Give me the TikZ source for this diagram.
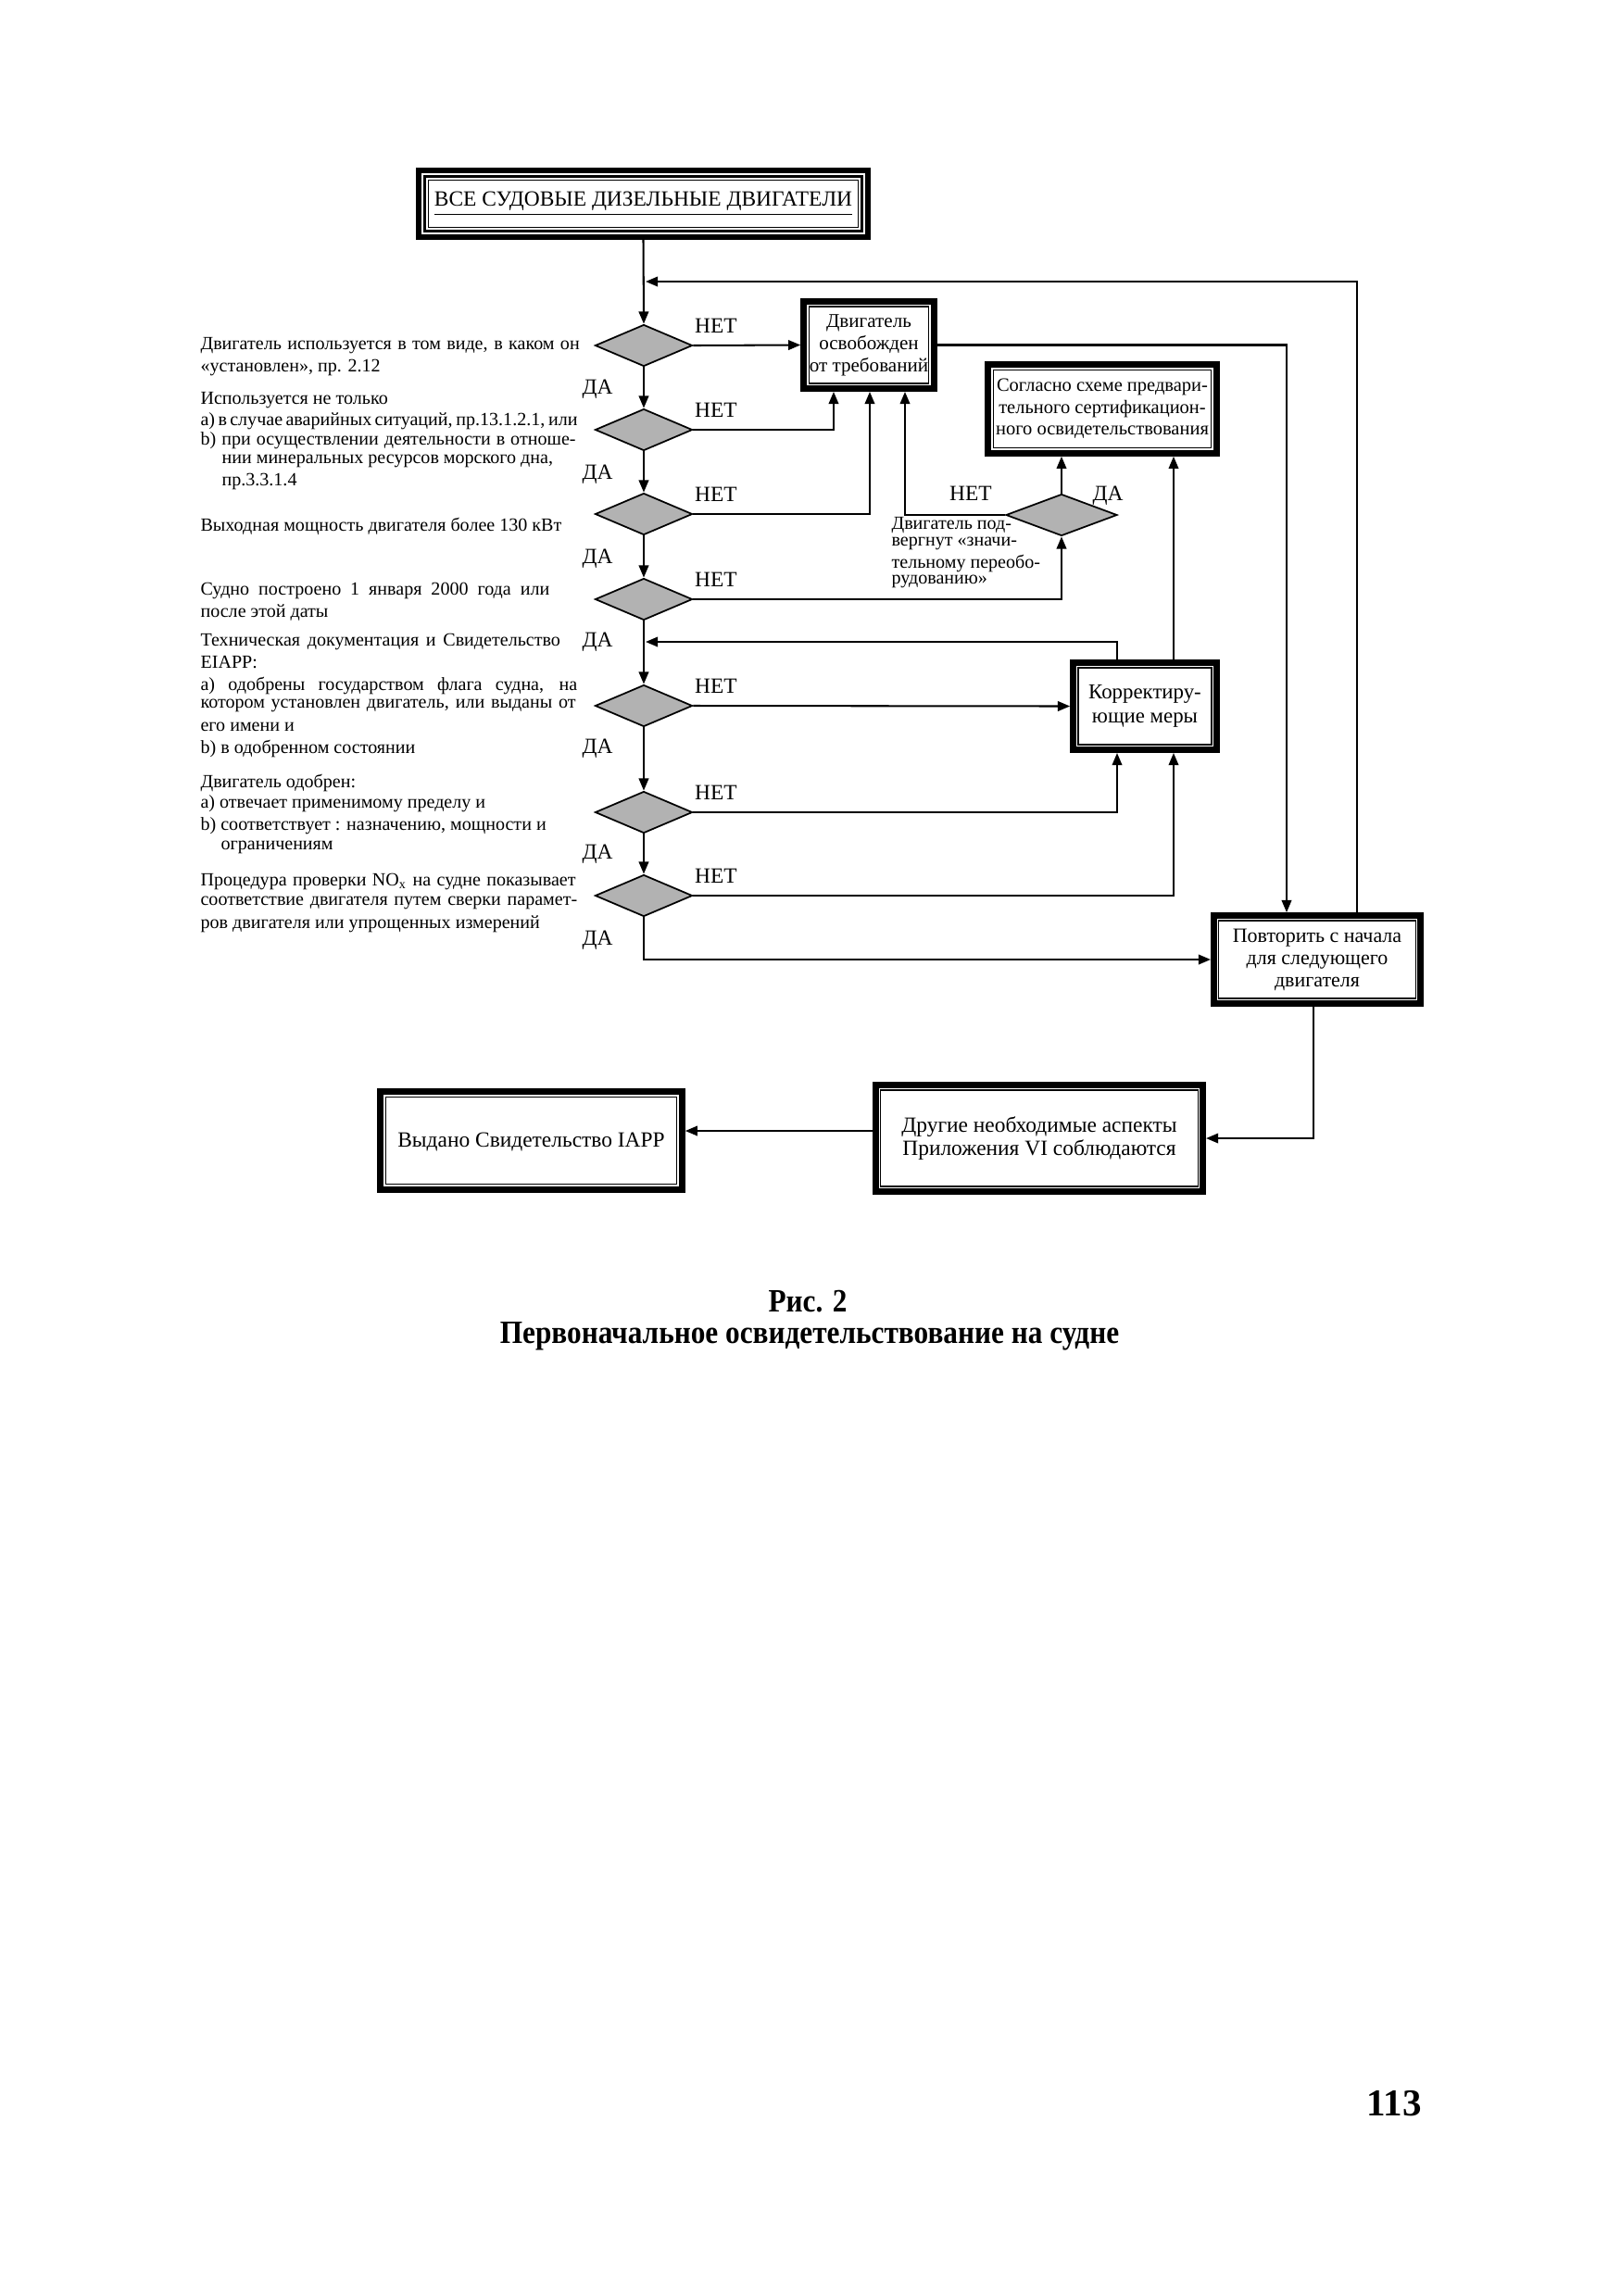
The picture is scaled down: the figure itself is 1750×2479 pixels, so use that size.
\documentclass[tikz,border=0pt]{standalone}
\usepackage{fontspec}
\usepackage{graphicx}
\setmainfont{Liberation Serif}
\usetikzlibrary{shapes.geometric,arrows.meta}
\begin{document}
\begin{tikzpicture}[x=0.12mm,y=-0.12mm]
\tikzset{
 conn/.style={line width=0.7pt},
 arr/.style={conn,-{Triangle[length=4.5pt,width=3.6pt]}},
 dia/.style={diamond,draw,line width=0.6pt,fill=black!30,minimum width=12.6mm,minimum height=5.4mm,inner sep=0pt,shape aspect=2.3},
 fb/.style={draw,line width=2.3pt,inner sep=0pt,align=center,font=\fontsize{7.5}{8.2}\selectfont,
   path picture={\draw[line width=0.4pt] ([shift={(1.9pt,1.9pt)}]path picture bounding box.south west) rectangle ([shift={(-1.9pt,-1.9pt)}]path picture bounding box.north east);}},
 topbox/.style={draw,line width=2pt,inner sep=0pt,align=center,font=\fontsize{8}{9}\selectfont,
   path picture={\draw[line width=1pt] ([shift={(2.3pt,2.3pt)}]path picture bounding box.south west) rectangle ([shift={(-2.3pt,-2.3pt)}]path picture bounding box.north east);
   \draw[line width=0.4pt] ([shift={(3.6pt,3.6pt)}]path picture bounding box.south west) rectangle ([shift={(-3.6pt,-3.6pt)}]path picture bounding box.north east);}},
 lbl/.style={font=\fontsize{8}{9}\selectfont,inner sep=0pt},
 lt/.style={font=\fontsize{6.85}{8}\selectfont,inner sep=0pt,anchor=west},
}
\useasboundingbox (0,0) rectangle (1750,2479);

% boxes
\node[topbox,minimum width=58.2mm,minimum height=8.6mm] (top) at (694.5,220) {\raisebox{2pt}{\underline{ВСЕ СУДОВЫЕ ДИЗЕЛЬНЫЕ ДВИГАТЕЛИ}}};
\node[fb,minimum width=16.9mm,minimum height=11.3mm,font=\fontsize{7.2}{8.2}\selectfont] (exempt) at (938,372.5) {Двигатель\\освобожден\\от требований};
\node[fb,minimum width=29.6mm,minimum height=11.5mm,font=\fontsize{7}{8}\selectfont] (prelim) at (1190,441.5) {Согласно схеме предвари-\\тельного сертификацион-\\ного освидетельствования};
\node[fb,minimum width=18.6mm,minimum height=11.3mm,font=\fontsize{7.8}{8.8}\selectfont] (corr) at (1236,762.5) {Корректиру-\\ющие меры};
\node[fb,minimum width=26.8mm,minimum height=11.4mm] (rep) at (1422,1036) {Повторить с начала\\для следующего\\двигателя};
\node[fb,minimum width=42.4mm,minimum height=13.8mm,font=\fontsize{8}{8.6}\selectfont] (other) at (1122,1229) {Другие необходимые аспекты\\Приложения VI соблюдаются};
\node[fb,minimum width=39.1mm,minimum height=12.7mm,font=\fontsize{8}{9}\selectfont] (issued) at (573.5,1231.5) {\raisebox{-6pt}{Выдано Свидетельство IAPP}};

% diamonds
\node[dia] (d1) at (695,373) {};
\node[dia] (d2) at (695,464) {};
\node[dia] (d3) at (695,555) {};
\node[dia] (d4) at (695,647) {};
\node[dia] (d5) at (695,762) {};
\node[dia] (d6) at (695,877) {};
\node[dia] (d7) at (695,967) {};
\node[dia,minimum width=14.4mm] (d8) at (1146,556) {};

% main line
\draw[arr] (top.south) -- (d1.north);
\draw[arr] (d1.south) -- (d2.north);
\draw[arr] (d2.south) -- (d3.north);
\draw[arr] (d3.south) -- (d4.north);
\draw[arr] (d4.south) -- (d5.north);
\draw[arr] (d5.south) -- (d6.north);
\draw[arr] (d6.south) -- (d7.north);
\draw[arr] (d7.south) |- (rep.west);

% NO branches
\draw[arr] (d1.east) -- (exempt.west);
\draw[arr] (d2.east) -| (900,0 |- exempt.south);
\draw[arr] (d3.east) -| (939,0 |- exempt.south);
\draw[arr] (d4.east) -| (d8.south);
\draw[arr] (d8.west) -| (977,0 |- exempt.south);
\draw[arr] (d8.north) -- (d8.north |- prelim.south);
\draw[arr] (d5.east) -- (corr.west);
\draw[arr] (d6.east) -| (1206,0 |- corr.south);
\draw[arr] (d7.east) -| (1267,0 |- corr.south);
\draw[arr] (1267,0 |- corr.north) -- (1267,0 |- prelim.south);
\coordinate (ret2) at (697,693);
\draw[arr] (1206,0 |- corr.north) |- (ret2);
\draw[arr] (exempt.east) -| (1389,0 |- rep.north);
\coordinate (ret1) at (697,304);
\draw[arr] (1465,0 |- rep.north) |- (ret1);
\draw[arr] (1418,0 |- rep.south) |- (other.east);
\draw[arr] (other.west |- 0,1221) -- (issued.east |- 0,1221);

% labels
\node[lbl] (n1) at (773,352) {НЕТ};
\node[lbl] (n2) at (773,443) {НЕТ};
\node[lbl] (n3) at (773,534) {НЕТ};
\node[lbl] (n4) at (773,626) {НЕТ};
\node[lbl] (n5) at (773,741) {НЕТ};
\node[lbl] (n6) at (773,856) {НЕТ};
\node[lbl] (n7) at (773,946) {НЕТ};
\node[lbl] (n8) at (1048,533) {НЕТ};
\node[lbl] (y8) at (1196,535) {ДА};
\node[lbl] (y1) at (645,420) {ДА};
\node[lbl] (y2) at (645,512) {ДА};
\node[lbl] (y3) at (645,603) {ДА};
\node[lbl] (y4) at (645,693) {ДА};
\node[lbl] (y5) at (645,808) {ДА};
\node[lbl] (y6) at (645,922) {ДА};
\node[lbl] (y7) at (645,1015) {ДА};

% text at diamond 8
\node[lt] (t8a) at (962,567) {Двигатель под-};
\node[lt] (t8b) at (962,587) {вергнут «значи-};
\node[lt] (t8c) at (962,608) {тельному переобо-};
\node[lt] (t8d) at (962,628) {рудованию»};

% left texts
\node[lt] (a1) at (216,373) {\makebox[49.1mm][s]{Двигатель используется в том виде, в каком он}};
\node[lt] (a2) at (216,397) {«установлен», пр. 2.12};
\node[lt] (b1) at (216,432) {Используется не только};
\node[lt] (b2) at (216,455) {\makebox[48.8mm][s]{а) в случае аварийных ситуаций, пр.13.1.2.1, или}};
\node[lt] (b3) at (216,476) {\makebox[48.6mm][s]{b) при осуществлении деятельности в отноше-}};
\node[lt] (b4) at (239,498) {нии минеральных ресурсов морского дна,};
\node[lt] (b5) at (239,520) {пр.3.3.1.4};
\node[lt] (c1) at (216,568) {Выходная мощность двигателя более 130 кВт};
\node[lt] (e1) at (216,638) {\makebox[45.2mm][s]{Судно построено 1 января 2000 года или}};
\node[lt] (e2) at (216,662) {после этой даты};
\node[lt] (f1) at (216,693) {\makebox[46.6mm][s]{Техническая документация и Свидетельство}};
\node[lt] (f2) at (216,715) {EIAPP:};
\node[lt] (f3) at (216,740) {\makebox[48.8mm][s]{а) одобрены государством флага судна, на}};
\node[lt] (f4) at (216,762) {\makebox[48.6mm][s]{котором установлен двигатель, или выданы от}};
\node[lt] (f5) at (216,785) {его имени и};
\node[lt] (f6) at (216,808) {b) в одобренном состоянии};
\node[lt] (g1) at (216,845) {Двигатель одобрен:};
\node[lt] (g2) at (216,868) {а) отвечает применимому пределу и};
\node[lt] (g3) at (216,892) {b) соответствует : назначению, мощности и};
\node[lt] (g4) at (238,915) {ограничениям};
\node[lt] (h1) at (216,952) {\makebox[48.6mm][s]{Процедура проверки NO\textsubscript{x} на судне показывает}};
\node[lt] (h2) at (216,975) {\makebox[48.8mm][s]{соответствие двигателя путем сверки парамет-}};
\node[lt] (h3) at (216,998) {ров двигателя или упрощенных измерений};

% caption
\node[font=\bfseries\fontsize{12}{14}\selectfont,inner sep=0pt] (cap1) at (872,1405) {\scalebox{0.89}[1]{Рис. 2}};
\node[font=\bfseries\fontsize{12}{14}\selectfont,inner sep=0pt] (cap2) at (874,1443) {\scalebox{0.89}[1]{Первоначальное освидетельствование на судне}};
\node[font=\bfseries\fontsize{14}{16}\selectfont,inner sep=0pt] (pg) at (1505,2271) {113};
\end{tikzpicture}
\end{document}
